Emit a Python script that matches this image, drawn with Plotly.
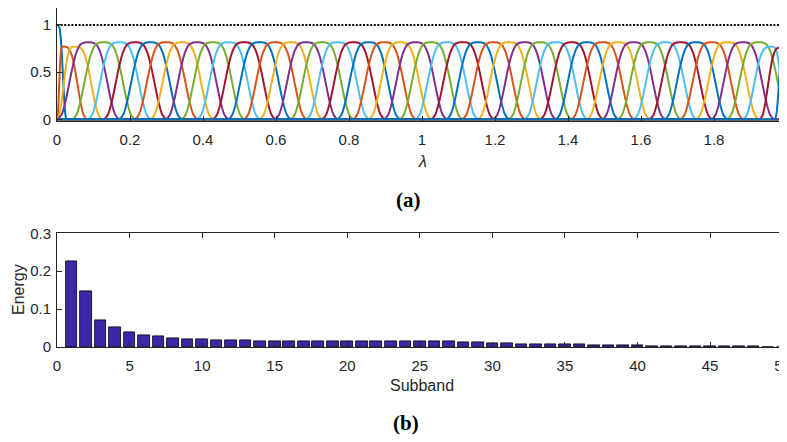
import plotly.graph_objects as go

# ---------------- data ----------------
# filter bank (top panel): one bump per subband
centers = [0.000, 0.016, 0.048, 0.086, 0.128, 0.171, 0.214, 0.256, 0.299, 0.342,
           0.384, 0.427, 0.470, 0.513, 0.555, 0.598, 0.641, 0.683, 0.726, 0.769,
           0.812, 0.854, 0.897, 0.940, 0.982, 1.025, 1.068, 1.111, 1.153, 1.196,
           1.239, 1.281, 1.324, 1.367, 1.410, 1.452, 1.495, 1.538, 1.580, 1.623,
           1.666, 1.709, 1.751, 1.794, 1.837, 1.879, 1.922, 1.958, 1.984, 2.000]
peaks = [1.00, 0.77, 0.77] + [0.816] * 44 + [0.77, 0.76, 1.00]
left_w = [0.000, 0.016, 0.048, 0.084] + [0.0854] * 43 + [0.078, 0.058, 0.033]
right_w = [0.026, 0.065, 0.075, 0.084] + [0.0854] * 43 + [0.042, 0.016, 0.000]
# bump profile: fraction of half-width -> fraction of peak
prof_pos = [0, 0.125, 0.25, 0.375, 0.5, 0.625, 0.75, 0.875, 1.0]
prof_val = [1.0, 0.998, 0.974, 0.885, 0.707, 0.466, 0.228, 0.060, 0.0]
frame_bound = 1.0
lam_ticks = [0, 0.2, 0.4, 0.6, 0.8, 1, 1.2, 1.4, 1.6, 1.8, 2]

# energy per subband (bottom panel)
subbands = list(range(1, 51))
energy = [0.226, 0.148, 0.071, 0.051, 0.040, 0.032, 0.027, 0.024, 0.021, 0.0195,
          0.018, 0.017, 0.0165, 0.016, 0.016, 0.016, 0.016, 0.016, 0.016, 0.016,
          0.016, 0.016, 0.016, 0.016, 0.0155, 0.015, 0.014, 0.013, 0.012, 0.011,
          0.009, 0.008, 0.0075, 0.007, 0.0065, 0.006, 0.005, 0.0045, 0.004, 0.0035,
          0.002, 0.0015, 0.001, 0.001, 0.0008, 0.0008, 0.0006, 0.0006, 0.0005, 0.0005]
sub_ticks = [0, 5, 10, 15, 20, 25, 30, 35, 40, 45, 50]

colors = ['#0072BD', '#D95319', '#EDB120', '#7E2F8E', '#77AC30', '#4DBEEE', '#A2142F']
AX = '#262626'
FONT = 'Liberation Sans, Arial, sans-serif'

fig = go.Figure()

for k, (c, h, wl, wr) in enumerate(zip(centers, peaks, left_w, right_w)):
    xs, ys = [], []
    if c - wl > 0.003:
        xs += [0.0, c - wl - 0.002]
        ys += [0.0, 0.0]
    if wl > 0:
        for f, v in zip(prof_pos[::-1], prof_val[::-1]):
            if f > 0:
                xs.append(c - wl * f)
                ys.append(h * v)
    xs.append(c)
    ys.append(h)
    if wr > 0:
        for f, v in zip(prof_pos[1:], prof_val[1:]):
            xs.append(c + wr * f)
            ys.append(h * v)
    if c + wr < 1.997:
        xs += [c + wr + 0.002, 2.0]
        ys += [0.0, 0.0]
    fig.add_trace(go.Scatter(x=xs, y=ys, mode='lines',
                             line=dict(color=colors[k % 7], width=2, shape='spline'),
                             xaxis='x', yaxis='y', showlegend=False, hoverinfo='skip'))

fig.add_trace(go.Scatter(x=[lam_ticks[0], lam_ticks[-1]], y=[frame_bound, frame_bound],
                         mode='lines', line=dict(color='black', width=2, dash='2px,1.6px'),
                         xaxis='x', yaxis='y', showlegend=False, hoverinfo='skip'))

fig.add_trace(go.Bar(x=subbands, y=energy, width=0.8,
                     marker=dict(color='#3E26A8', line=dict(color='black', width=0.8)),
                     xaxis='x2', yaxis='y2', showlegend=False, hoverinfo='skip'))

axis_common = dict(showgrid=False, zeroline=False, showline=True, linecolor=AX,
                   linewidth=1, ticks='inside', tickcolor=AX, ticklen=5,
                   automargin=False,
                   tickfont=dict(family=FONT, size=15, color=AX))

# the page adds an 8px body margin, so the figure is offset by 8px right/down
fig.update_layout(
    width=787, height=442,
    margin=dict(l=49, r=8, t=0, b=103, autoexpand=False),
    paper_bgcolor='white', plot_bgcolor='white',
    bargap=0,
    xaxis=dict(domain=[0, 1], range=[0, 2], anchor='y', tickvals=lam_ticks,
               ticklabelstandoff=5, **axis_common),
    yaxis=dict(domain=[0.6676, 1], range=[-0.015, 1.18], anchor='x',
               tickvals=[0, 0.5, 1], ticklabelstandoff=2, **axis_common),
    xaxis2=dict(domain=[0, 1], range=[0, 50.3], anchor='y2', tickvals=sub_ticks,
                mirror='ticks', ticklabelstandoff=5, **axis_common),
    yaxis2=dict(domain=[0, 0.3354], range=[0, 0.3], anchor='x2',
                tickvals=[0, 0.1, 0.2, 0.3], mirror='ticks', ticklabelstandoff=2,
                **axis_common),
)

def px(x):
    return (x - 57) / 730.0

def py(y):
    return (347 - y) / 339.0

ann = [
    dict(text='<i>λ</i>', x=px(422), y=py(161), font=dict(family=FONT, size=16, color=AX)),
    dict(text='<b>(a)</b>', x=px(408), y=py(200),
         font=dict(family='Liberation Serif, Times New Roman, serif', size=21, color='black')),
    dict(text='Subband', x=px(422), y=py(385), font=dict(family=FONT, size=16, color=AX)),
    dict(text='<b>(b)</b>', x=px(406), y=py(423),
         font=dict(family='Liberation Serif, Times New Roman, serif', size=21, color='black')),
    dict(text='Energy', x=px(18), y=py(290), textangle=-90,
         font=dict(family=FONT, size=16, color=AX)),
]
for a in ann:
    fig.add_annotation(xref='paper', yref='paper', xanchor='center', yanchor='middle',
                       showarrow=False, **a)

fig.write_html('out.html')
